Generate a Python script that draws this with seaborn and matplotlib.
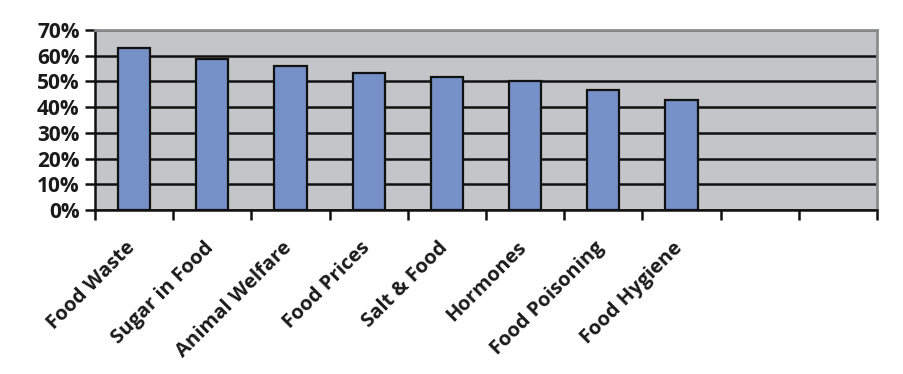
import matplotlib
matplotlib.use("Agg")
import matplotlib.pyplot as plt
import matplotlib.transforms as mtransforms
import seaborn as sns
import pandas as pd
import numpy as np
from matplotlib.ticker import FixedLocator, PercentFormatter

categories = ["Food Waste", "Sugar in Food", "Animal Welfare", "Food Prices",
              "Salt & Food", "Hormones", "Food Poisoning", "Food Hygiene"]
values = [63, 58.8, 56.1, 53.4, 51.7, 50, 46.8, 42.9]
n_slots = 10
yticks = [0, 10, 20, 30, 40, 50, 60, 70]

sns.set_theme(style="white")
plt.rcParams['font.family'] = ['Open Sans', 'DejaVu Sans']

df = pd.DataFrame({"cat": categories, "val": values})

fig = plt.figure(figsize=(9.04, 3.74), dpi=100)
ax = fig.add_axes([95/904, 1 - 210/374, (877-95)/904, (210-30)/374])
ax.set_facecolor("#c3c5c8")
ax.set_axisbelow(True)

sns.barplot(data=df, x="cat", y="val", order=categories, color="#7690c8",
            saturation=1, width=0.41, edgecolor="#111111", linewidth=1.6, ax=ax)

ax.set_xlim(-0.5, n_slots - 0.5)
ax.set_ylim(0, 70)
ax.set_yticks(yticks)
ax.yaxis.set_major_formatter(PercentFormatter(decimals=0))
ax.yaxis.grid(True, color="#111111", linewidth=1.8)
ax.xaxis.grid(False)

# ticks at category boundaries, labels at centers
ax.xaxis.set_major_locator(FixedLocator(np.arange(-0.5, n_slots, 1.0)))
ax.xaxis.set_minor_locator(FixedLocator(np.arange(len(categories))))
ax.set_xticklabels([""] * (n_slots + 1))
ax.set_xticklabels(categories, minor=True, rotation=45, ha="right",
                   rotation_mode="anchor", fontsize=14.5, fontweight="bold",
                   color="#1a1a1a")
ax.tick_params(axis="x", which="major", direction="out", length=7, width=1.8,
               color="#111111", bottom=True)
ax.tick_params(axis="x", which="minor", length=0, pad=20)
ax.tick_params(axis="y", direction="out", length=7, width=1.8, color="#111111",
               left=True, labelsize=15, pad=4, labelcolor="#1a1a1a")
for lab in ax.get_yticklabels():
    lab.set_fontweight("bold")

offset = mtransforms.ScaledTranslation(-9/100, 0, fig.dpi_scale_trans)
for lab in ax.get_xticklabels(minor=True):
    lab.set_transform(lab.get_transform() + offset)

ax.set_xlabel("")
ax.set_ylabel("")

for side in ["left", "bottom"]:
    ax.spines[side].set_color("#111111")
    ax.spines[side].set_linewidth(1.8)
for side in ["top", "right"]:
    ax.spines[side].set_color("#8a8c8e")
    ax.spines[side].set_linewidth(2)

fig.savefig("out.png", dpi=100)
